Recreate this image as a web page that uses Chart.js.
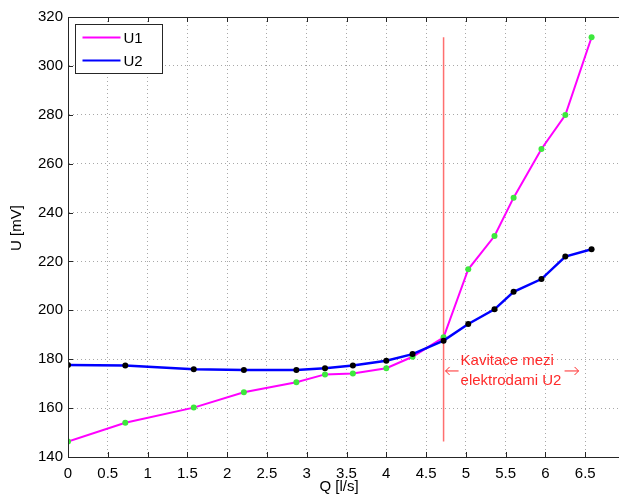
<!DOCTYPE html>
<html>
<head>
<meta charset="utf-8">
<title>U vs Q</title>
<script src="https://cdn.jsdelivr.net/npm/chart.js@4/dist/chart.umd.min.js"></script>
<style>
  html, body { margin: 0; padding: 0; overflow: hidden; background: #fff; }
  #wrap { width: 640px; height: 501px; }
</style>
</head>
<body>
<div id="wrap"><canvas id="chart" width="640" height="501"></canvas></div>
<script>
// Flow rate Q [l/s] and measured voltages U [mV]
const flowQ  = [0, 0.72, 1.58, 2.21, 2.87, 3.23, 3.58, 4.00, 4.33, 4.72, 5.03, 5.36, 5.60, 5.95, 6.25, 6.58];
const voltU1 = [146.3, 154.0, 160.2, 166.5, 170.6, 173.8, 174.2, 176.3, 181.0, 189.0, 216.8, 230.4, 246.1, 266.0, 279.9, 311.7];
const voltU2 = [177.6, 177.4, 175.9, 175.6, 175.6, 176.3, 177.4, 179.4, 182.1, 187.6, 194.4, 200.4, 207.6, 212.8, 222.0, 225.0];

// Cavitation marker line
const cavQ = 4.72;
const cavU = [146.3, 311.7];
const cavLabel = ['Kavitace mezi', 'elektrodami U2'];

// Axis ticks
const qTicks = [0, 0.5, 1, 1.5, 2, 2.5, 3, 3.5, 4, 4.5, 5, 5.5, 6, 6.5, 7];
const uTicks = [140, 160, 180, 200, 220, 240, 260, 280, 300, 320];

const FONT = "'Liberation Sans', Arial, sans-serif";

function toPoints(xs, ys) {
    return xs.map((q, i) => ({ x: q, y: ys[i] }));
}

// Box, inward ticks, legend, annotation and axis titles (MATLAB look)
const overlay = {
    id: 'overlay',
    afterDraw(chart) {
        const ctx = chart.ctx;
        const a = chart.chartArea;
        const x = chart.scales.x;
        const y = chart.scales.y;
        ctx.save();

        // axes box
        ctx.strokeStyle = '#262626';
        ctx.lineWidth = 1;
        ctx.strokeRect(Math.round(a.left) + 0.5, Math.round(a.top) + 0.5,
                       Math.round(a.right - a.left), Math.round(a.bottom - a.top));

        // inward tick marks on all four sides
        ctx.beginPath();
        qTicks.forEach(v => {
            const px = Math.round(x.getPixelForValue(v)) + 0.5;
            ctx.moveTo(px, a.bottom); ctx.lineTo(px, a.bottom - 5);
            ctx.moveTo(px, a.top); ctx.lineTo(px, a.top + 5);
        });
        uTicks.forEach(v => {
            const py = Math.round(y.getPixelForValue(v)) + 0.5;
            ctx.moveTo(a.left, py); ctx.lineTo(a.left + 5, py);
            ctx.moveTo(a.right, py); ctx.lineTo(a.right - 5, py);
        });
        ctx.stroke();

        // axis titles
        ctx.fillStyle = '#000';
        ctx.font = '15px ' + FONT;
        ctx.textAlign = 'center';
        ctx.textBaseline = 'alphabetic';
        ctx.fillText('Q [l/s]', 339, 491);
        ctx.save();
        ctx.translate(21, 228);
        ctx.rotate(-Math.PI / 2);
        ctx.fillText('U [mV]', 0, 0);
        ctx.restore();

        // annotation text and arrows
        const lx = x.getPixelForValue(cavQ);
        const ay = y.getPixelForValue(175.2);
        ctx.fillStyle = '#ff2a2a';
        ctx.strokeStyle = '#ff2a2a';
        ctx.textAlign = 'left';
        ctx.fillText(cavLabel[0], lx + 17, ay - 5.5);
        ctx.fillText(cavLabel[1], lx + 17, ay + 14);
        ctx.lineWidth = 1;
        ctx.beginPath();
        // left arrow
        ctx.moveTo(lx + 15, ay); ctx.lineTo(lx + 2, ay);
        ctx.moveTo(lx + 6, ay - 4); ctx.lineTo(lx + 2, ay); ctx.lineTo(lx + 6, ay + 4);
        // right arrow
        ctx.moveTo(lx + 121, ay); ctx.lineTo(lx + 135, ay);
        ctx.moveTo(lx + 131, ay - 4); ctx.lineTo(lx + 135, ay); ctx.lineTo(lx + 131, ay + 4);
        ctx.stroke();

        // legend box
        const bx = Math.round(a.left) + 7.5, by = Math.round(a.top) + 7.5;
        ctx.fillStyle = '#fff';
        ctx.fillRect(bx, by, 87, 49);
        ctx.strokeStyle = '#262626';
        ctx.strokeRect(bx, by, 87, 49);
        const entries = [chart.data.datasets[1], chart.data.datasets[0]];
        entries.forEach((ds, i) => {
            const ey = by + 13 + i * 23;
            ctx.strokeStyle = ds.borderColor;
            ctx.lineWidth = 2;
            ctx.beginPath();
            ctx.moveTo(bx + 7, ey); ctx.lineTo(bx + 45, ey);
            ctx.stroke();
            ctx.fillStyle = '#000';
            ctx.textBaseline = 'middle';
            ctx.fillText(ds.label, bx + 48, ey + 1);
        });

        ctx.restore();
    }
};

new Chart(document.getElementById('chart'), {
    type: 'line',
    data: {
        datasets: [
            {
                label: 'U2',
                data: toPoints(flowQ, voltU2),
                borderColor: '#0000ff',
                borderWidth: 2.5,
                pointRadius: 3,
                pointBorderWidth: 0,
                pointBackgroundColor: '#000',
                tension: 0
            },
            {
                label: 'U1',
                data: toPoints(flowQ, voltU1),
                borderColor: '#ff00ff',
                borderWidth: 2,
                pointRadius: 3,
                pointBorderWidth: 0,
                pointBackgroundColor: '#3de83d',
                tension: 0
            },
            {
                label: 'cavitation',
                data: cavU.map(u => ({ x: cavQ, y: u })),
                borderColor: '#ff6f6f',
                borderWidth: 1.5,
                pointRadius: 0
            }
        ]
    },
    options: {
        responsive: false,
        animation: false,
        layout: { padding: { top: 17, right: 15, left: 0, bottom: 0 } },
        plugins: {
            legend: { display: false },
            tooltip: { enabled: false }
        },
        scales: {
            x: {
                type: 'linear',
                min: 0,
                max: 7,
                afterBuildTicks: scale => { scale.ticks = qTicks.map(v => ({ value: v })); },
                afterFit: scale => { scale.height = 44; },
                grid: { color: '#a8a8a8', drawTicks: false },
                border: { display: true, color: '#262626', dash: [1, 3] },
                ticks: {
                    color: '#000',
                    padding: 8,
                    maxRotation: 0,
                    autoSkip: false,
                    font: { family: FONT, size: 15 },
                    callback: v => String(v)
                }
            },
            y: {
                type: 'linear',
                min: 140,
                max: 320,
                afterBuildTicks: scale => { scale.ticks = uTicks.map(v => ({ value: v })); },
                afterFit: scale => { scale.width = 68; },
                grid: { color: '#a8a8a8', drawTicks: false },
                border: { display: true, color: '#262626', dash: [1, 3] },
                ticks: {
                    color: '#000',
                    padding: 5,
                    autoSkip: false,
                    font: { family: FONT, size: 15 },
                    callback: v => String(v)
                }
            }
        }
    },
    plugins: [overlay]
});
</script>
</body>
</html>
